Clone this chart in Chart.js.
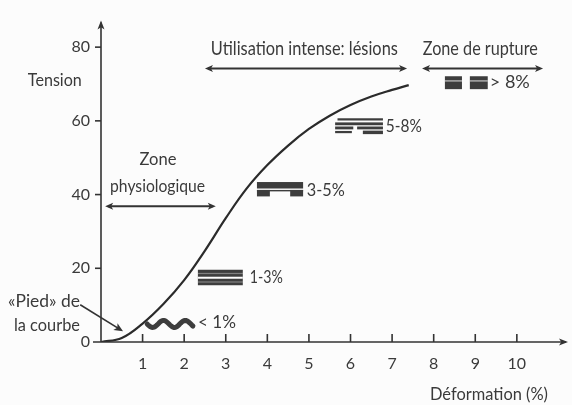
<!DOCTYPE html>
<html>
<head>
<meta charset="utf-8">
<script src="https://cdn.jsdelivr.net/npm/chart.js@4.4.1/dist/chart.umd.min.js"></script>
<style>
html,body{margin:0;padding:0;background:#fcfcfc;}
canvas{display:block;}
</style>
</head>
<body>
<canvas id="c" width="572" height="405"></canvas>
<script>
// ---- data ----
const strain  = [0, 0.5, 1, 1.5, 2, 2.5, 3, 3.5, 4, 4.5, 5, 5.5, 6, 6.5, 7, 7.4];
const tension = [0, 1.1, 5.0, 10.3, 16.8, 24.8, 33.6, 41.6, 48.0, 53.3, 57.8, 61.4, 64.3, 66.6, 68.4, 69.7];
const xTicks = [1, 2, 3, 4, 5, 6, 7, 8, 9, 10];
const yTicks = [0, 20, 40, 60, 80];
const xLabel = "Déformation (%)";
const yLabel = "Tension";

// ---- annotations (data-space anchors) ----
const texts = [
  {t: yLabel, x: -1.11, y: 71.0, s: 18, w: 54, a: "center"},
  {t: "Utilisation intense: lésions", x: 4.89, y: 79.6, s: 19, w: 187, a: "center"},
  {t: "Zone de rupture", x: 9.12, y: 79.5, s: 19, w: 115, a: "center"},
  {t: "Zone", x: 1.37, y: 49.5, s: 18, w: 37, a: "center"},
  {t: "physiologique", x: 1.36, y: 42.4, s: 18, w: 95, a: "center"},
  {t: "«Pied» de", x: -1.37, y: 11.1, s: 17, w: 72, a: "center"},
  {t: "la courbe", x: -1.30, y: 4.5, s: 17, w: 66, a: "center"},
  {t: "> 8%", x: 9.35, y: 70.5, s: 18, w: 40, a: "left"},
  {t: "5-8%", x: 6.85, y: 58.5, s: 18, w: 36, a: "left"},
  {t: "3-5%", x: 4.95, y: 41.3, s: 18, w: 38, a: "left"},
  {t: "1-3%", x: 3.58, y: 17.5, s: 18, w: 33, a: "left"},
  {t: "< 1%", x: 2.33, y: 5.3, s: 18, w: 38, a: "left"},
  {t: xLabel, x: 9.33, y: -14.3, s: 17, w: 118, a: "center"}
];
const zoneArrows = [
  {x1: 2.5, x2: 7.36, y: 74.2},
  {x1: 7.72, x2: 10.63, y: 74.2},
  {x1: 0.1, x2: 2.76, y: 36.8}
];
const glyphs = [
  {k: "wave",  x1: 1.11, x2: 2.21, y1: 6.6, y2: 3.2},
  {k: "g13",   x1: 2.33, x2: 3.41, y1: 19.6, y2: 15.4},
  {k: "g35",   x1: 3.75, x2: 4.86, y1: 43.4, y2: 39.5},
  {k: "g58",   x1: 5.63, x2: 6.78, y1: 60.7, y2: 56.4},
  {k: "g8",    x1: 8.27, x2: 8.68, y1: 72.1, y2: 68.6},
  {k: "g8",    x1: 8.87, x2: 9.30, y1: 72.1, y2: 68.6}
];
const piedArrow = {x1: -0.50, y1: 10.1, x2: 0.53, y2: 2.9};

const INK = "#3a3a3a";

function fitText(ctx, s, px, py, size, width, align) {
  ctx.save();
  ctx.font = size + "px Lato";
  const m = ctx.measureText(s).width;
  ctx.translate(px, py);
  ctx.scale(width / m, 1);
  ctx.textAlign = align;
  ctx.textBaseline = "middle";
  ctx.fillStyle = INK;
  ctx.fillText(s, 0, 0);
  ctx.restore();
}
function head(ctx, x, y, ang, len, hw) {
  ctx.save();
  ctx.translate(x, y); ctx.rotate(ang);
  ctx.beginPath();
  ctx.moveTo(0, 0); ctx.lineTo(-len, -hw); ctx.lineTo(-len * 0.75, 0); ctx.lineTo(-len, hw);
  ctx.closePath(); ctx.fill();
  ctx.restore();
}

const decor = {
  id: "decor",
  afterDatasetsDraw(chart) {
    const ctx = chart.ctx;
    const sx = chart.scales.x, sy = chart.scales.y;
    const X = v => sx.getPixelForValue(v), Y = v => sy.getPixelForValue(v);
    const x0 = X(0), y0 = Y(0), xr = sx.right, yt = sy.top;
    ctx.save();
    ctx.strokeStyle = "#333"; ctx.fillStyle = "#333"; ctx.lineWidth = 1.6;
    // axes
    ctx.beginPath(); ctx.moveTo(x0 - 8, y0); ctx.lineTo(xr - 2, y0); ctx.stroke();
    head(ctx, xr, y0, 0, 9, 3.5);
    ctx.beginPath(); ctx.moveTo(x0, y0); ctx.lineTo(x0, yt + 2); ctx.stroke();
    head(ctx, x0, yt, -Math.PI / 2, 9, 3.5);
    // tick marks
    xTicks.forEach(v => { ctx.beginPath(); ctx.moveTo(X(v), y0); ctx.lineTo(X(v), y0 - 8); ctx.stroke(); });
    yTicks.forEach(v => { if (v === 0) return; ctx.beginPath(); ctx.moveTo(x0 - 6, Y(v)); ctx.lineTo(x0, Y(v)); ctx.stroke(); });
    // zone arrows
    ctx.lineWidth = 2;
    zoneArrows.forEach(a => {
      const l = X(a.x1), r = X(a.x2), y = Y(a.y);
      ctx.beginPath(); ctx.moveTo(l + 3, y); ctx.lineTo(r - 3, y); ctx.stroke();
      head(ctx, r, y, 0, 8, 3.5); head(ctx, l, y, Math.PI, 8, 3.5);
    });
    // pied arrow
    {
      const ax = X(piedArrow.x1), ay = Y(piedArrow.y1), bx = X(piedArrow.x2), by = Y(piedArrow.y2);
      const ang = Math.atan2(by - ay, bx - ax);
      ctx.lineWidth = 1.6;
      ctx.beginPath(); ctx.moveTo(ax, ay); ctx.lineTo(bx - 5 * Math.cos(ang), by - 5 * Math.sin(ang)); ctx.stroke();
      head(ctx, bx, by, ang, 9, 4);
    }
    // fibre glyphs
    glyphs.forEach(g => {
      const l = X(g.x1), r = X(g.x2), t = Y(g.y1), b = Y(g.y2), w = r - l, h = b - t;
      ctx.fillStyle = "#3d3d3d"; ctx.strokeStyle = "#3d3d3d";
      if (g.k === "wave") {
        ctx.lineWidth = 5; ctx.lineCap = "round";
        ctx.beginPath();
        for (let i = 0; i <= 60; i++) {
          const f = i / 60;
          const px = l + f * w, py = (t + b) / 2 + Math.sin(f * Math.PI * 4.2) * h * 0.28;
          if (i === 0) ctx.moveTo(px, py); else ctx.lineTo(px, py);
        }
        ctx.stroke(); ctx.lineCap = "butt";
      } else if (g.k === "g13") {
        ctx.fillRect(l, t, w, h);
        ctx.fillStyle = "#fcfcfc"; ctx.fillRect(l, t + h * 0.45, w, h * 0.13);
        ctx.fillStyle = "rgba(255,255,255,0.35)";
        ctx.fillRect(l, t + h * 0.2, w, h * 0.08); ctx.fillRect(l, t + h * 0.75, w, h * 0.08);
      } else if (g.k === "g35") {
        ctx.fillRect(l, t, w, h * 0.45);
        ctx.fillRect(l, t + h * 0.55, w, h * 0.1);
        ctx.fillRect(l, t + h * 0.55, w * 0.28, h * 0.45);
        ctx.fillRect(l + w * 0.72, t + h * 0.55, w * 0.28, h * 0.45);
      } else if (g.k === "g58") {
        ctx.fillRect(l + w * 0.05, t, w * 0.95, h * 0.14);
        ctx.fillRect(l, t + h * 0.26, w, h * 0.18);
        ctx.fillRect(l, t + h * 0.52, w * 0.38, h * 0.18);
        ctx.fillRect(l + w * 0.46, t + h * 0.52, w * 0.54, h * 0.18);
        ctx.fillRect(l, t + h * 0.80, w * 0.35, h * 0.14);
        ctx.fillRect(l + w * 0.58, t + h * 0.78, w * 0.42, h * 0.22);
      } else if (g.k === "g8") {
        ctx.fillRect(l, t, w, h);
        ctx.fillStyle = "rgba(255,255,255,0.55)"; ctx.fillRect(l, t + h * 0.3, w, h * 0.12);
      }
    });
    // texts
    texts.forEach(o => fitText(ctx, o.t, X(o.x), Y(o.y), o.s, o.w, o.a));
    ctx.restore();
  }
};

new Chart(document.getElementById("c"), {
  type: "scatter",
  data: {
    datasets: [{
      data: strain.map((v, i) => ({x: v, y: tension[i]})),
      showLine: true,
      borderColor: "#2b2b2b",
      borderWidth: 2.2,
      pointRadius: 0,
      tension: 0.4,
      fill: false
    }]
  },
  options: {
    responsive: false,
    devicePixelRatio: 1,
    animation: false,
    layout: {padding: {top: 13, right: 4, left: 0, bottom: 0}},
    plugins: {legend: {display: false}, tooltip: {enabled: false}},
    scales: {
      x: {
        type: "linear", min: 0, max: 11.23,
        afterBuildTicks: s => { s.ticks = xTicks.map(v => ({value: v})); },
        afterFit: s => { s.height = 63; },
        grid: {display: false, drawTicks: false},
        border: {display: false},
        ticks: {color: INK, font: {family: "Lato", size: 16}, padding: 12, maxRotation: 0, autoSkip: false}
      },
      y: {
        type: "linear", min: 0, max: 87.2,
        afterBuildTicks: s => { s.ticks = yTicks.map(v => ({value: v})); },
        afterFit: s => { s.width = 101; },
        grid: {display: false, drawTicks: false},
        border: {display: false},
        ticks: {color: INK, font: {family: "Lato", size: 16}, padding: 11}
      }
    }
  },
  plugins: [decor]
});
</script>
</body>
</html>
